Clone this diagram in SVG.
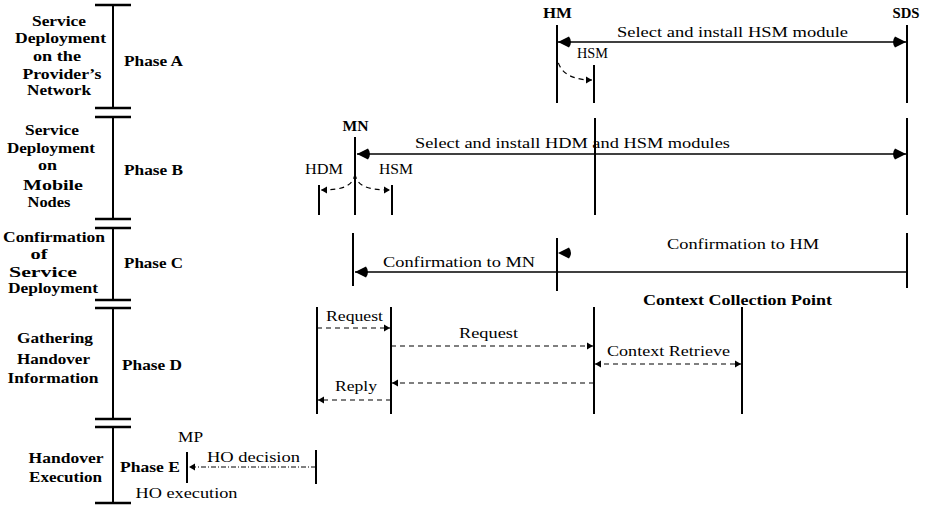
<svg xmlns="http://www.w3.org/2000/svg" width="933" height="506" viewBox="0 0 933 506" font-family="'Liberation Serif', 'Times New Roman', serif">
<style>
text{font-family:'Liberation Serif','Times New Roman',serif;fill:#000}
.b{font-weight:bold;font-size:14px}
.r{font-size:15.5px}
.ph{stroke:#000;stroke-width:2;fill:none}
.tk{stroke:#000;stroke-width:2.5}
.ll{stroke:#000;stroke-width:2;fill:none}
.sol{stroke:#000;stroke-width:1.4;fill:none}
.dsh{stroke:#000;stroke-width:1.2;fill:none;stroke-dasharray:5,4}
.dd{stroke:#000;stroke-width:1;fill:none;stroke-dasharray:5,2,1,2}
</style>
<defs>
<marker id="big" markerUnits="userSpaceOnUse" markerWidth="16" markerHeight="14" viewBox="-15 -7 16 14" refX="0" refY="0" orient="auto-start-reverse">
<path d="M0,0 L-11,-5.5 Q-15,0 -11,5.5 Z" fill="#000"/>
</marker>
<marker id="sm" markerUnits="userSpaceOnUse" markerWidth="8" markerHeight="8" viewBox="-7 -4 8 8" refX="0" refY="0" orient="auto-start-reverse">
<path d="M0,0 L-6,-3.5 L-6,3.5 Z" fill="#000"/>
</marker>
</defs>

<g id="phase-bar">
<line class="tk" x1="95" y1="5" x2="131" y2="5"/>
<line class="ph" x1="113" y1="5" x2="113" y2="108"/>
<line class="tk" x1="95" y1="108" x2="131" y2="108"/>
<line class="tk" x1="95" y1="117" x2="131" y2="117"/>
<line class="ph" x1="113" y1="117" x2="113" y2="219"/>
<line class="tk" x1="95" y1="219" x2="131" y2="219"/>
<line class="tk" x1="95" y1="228" x2="131" y2="228"/>
<line class="ph" x1="113" y1="228" x2="113" y2="300"/>
<line class="tk" x1="95" y1="300" x2="131" y2="300"/>
<line class="tk" x1="95" y1="308" x2="131" y2="308"/>
<line class="ph" x1="113" y1="308" x2="113" y2="419"/>
<line class="tk" x1="95" y1="419" x2="131" y2="419"/>
<line class="tk" x1="95" y1="427" x2="131" y2="427"/>
<line class="ph" x1="113" y1="427" x2="113" y2="503"/>
<line class="tk" x1="95" y1="503" x2="131" y2="503"/>
</g>

<g id="phase-a-label" class="b" text-anchor="middle">
<text x="59" y="26" textLength="54" lengthAdjust="spacingAndGlyphs">Service</text>
<text x="60.5" y="43" textLength="91" lengthAdjust="spacingAndGlyphs">Deployment</text>
<text x="57" y="61" textLength="48" lengthAdjust="spacingAndGlyphs">on the</text>
<text x="62" y="79" textLength="79" lengthAdjust="spacingAndGlyphs">Provider’s</text>
<text x="59" y="95" textLength="64" lengthAdjust="spacingAndGlyphs">Network</text>
<text x="153.5" y="66" textLength="59" lengthAdjust="spacingAndGlyphs">Phase A</text>
</g>
<g id="phase-b-label" class="b" text-anchor="middle">
<text x="52" y="135" textLength="54" lengthAdjust="spacingAndGlyphs">Service</text>
<text x="51" y="153" textLength="88" lengthAdjust="spacingAndGlyphs">Deployment</text>
<text x="47.5" y="170" textLength="19" lengthAdjust="spacingAndGlyphs">on</text>
<text x="53" y="190" textLength="60" lengthAdjust="spacingAndGlyphs">Mobile</text>
<text x="49" y="207" textLength="43" lengthAdjust="spacingAndGlyphs">Nodes</text>
<text x="153.5" y="175" textLength="59" lengthAdjust="spacingAndGlyphs">Phase B</text>
</g>
<g id="phase-c-label" class="b" text-anchor="middle">
<text x="54" y="242" textLength="102" lengthAdjust="spacingAndGlyphs">Confirmation</text>
<text x="39" y="259" textLength="17" lengthAdjust="spacingAndGlyphs">of</text>
<text x="43" y="276.5" textLength="68" lengthAdjust="spacingAndGlyphs">Service</text>
<text x="53" y="293" textLength="90" lengthAdjust="spacingAndGlyphs">Deployment</text>
<text x="153.5" y="268" textLength="59" lengthAdjust="spacingAndGlyphs">Phase C</text>
</g>
<g id="phase-d-label" class="b" text-anchor="middle">
<text x="55" y="343" textLength="76" lengthAdjust="spacingAndGlyphs">Gathering</text>
<text x="53.5" y="364" textLength="73" lengthAdjust="spacingAndGlyphs">Handover</text>
<text x="53" y="383" textLength="91" lengthAdjust="spacingAndGlyphs">Information</text>
<text x="152" y="370" textLength="60" lengthAdjust="spacingAndGlyphs">Phase D</text>
</g>
<g id="phase-e-label" class="b" text-anchor="middle">
<text x="66" y="463" textLength="75" lengthAdjust="spacingAndGlyphs">Handover</text>
<text x="65.5" y="482" textLength="73" lengthAdjust="spacingAndGlyphs">Execution</text>
<text x="150" y="472" textLength="60" lengthAdjust="spacingAndGlyphs">Phase E</text>
</g>

<g id="HM">
<text class="b" x="557.5" y="18" text-anchor="middle" textLength="29" lengthAdjust="spacingAndGlyphs">HM</text>
<line class="ll" x1="557" y1="25" x2="557" y2="103"/>
<line class="ll" x1="595" y1="118" x2="595" y2="215"/>
<line class="ll" x1="557" y1="238" x2="557" y2="291"/>
</g>
<g id="HSM-A">
<text class="r" x="592.5" y="58" text-anchor="middle" font-size="14" textLength="31" lengthAdjust="spacingAndGlyphs">HSM</text>
<line class="ll" x1="594" y1="65" x2="594" y2="103"/>
</g>
<g id="SDS">
<text class="b" x="906" y="18" text-anchor="middle" textLength="27" lengthAdjust="spacingAndGlyphs">SDS</text>
<line class="ll" x1="907" y1="25" x2="907" y2="103"/>
<line class="ll" x1="907" y1="118" x2="907" y2="215"/>
<line class="ll" x1="907" y1="233" x2="907" y2="288"/>
</g>
<g id="MN">
<text class="b" x="355.5" y="131" text-anchor="middle" textLength="26" lengthAdjust="spacingAndGlyphs">MN</text>
<line class="ll" x1="355" y1="137" x2="355" y2="215" stroke-width="3"/>
<line class="ll" x1="353" y1="233" x2="353" y2="286"/>
</g>
<g id="HDM">
<text class="r" x="324" y="174" text-anchor="middle" textLength="38" lengthAdjust="spacingAndGlyphs">HDM</text>
<line class="ll" x1="319" y1="185" x2="319" y2="215"/>
</g>
<g id="HSM-B">
<text class="r" x="396" y="174" text-anchor="middle" textLength="34" lengthAdjust="spacingAndGlyphs">HSM</text>
<line class="ll" x1="392" y1="185" x2="392" y2="215"/>
</g>
<g id="phase-d-lifelines">
<line class="ll" x1="317" y1="307" x2="317" y2="414"/>
<line class="ll" x1="391" y1="307" x2="391" y2="414"/>
<line class="ll" x1="594" y1="307" x2="594" y2="414"/>
</g>
<g id="CCP">
<text class="b" x="737.5" y="305" text-anchor="middle" font-size="15" textLength="189" lengthAdjust="spacingAndGlyphs">Context Collection Point</text>
<line class="ll" x1="742" y1="307" x2="742" y2="414"/>
</g>
<g id="MP">
<text class="r" x="190.5" y="442" text-anchor="middle" textLength="25" lengthAdjust="spacingAndGlyphs">MP</text>
<line class="ll" x1="187" y1="452" x2="187" y2="483"/>
<line class="ll" x1="316" y1="450" x2="316" y2="484"/>
<text class="r" x="186.5" y="498" text-anchor="middle" textLength="102" lengthAdjust="spacingAndGlyphs">HO execution</text>
</g>

<g id="connectors">
<line class="sol" x1="558" y1="42" x2="906" y2="42" marker-start="url(#big)" marker-end="url(#big)"/>
<path class="dsh" d="M557,54 C557,70 568,80 592,80" marker-end="url(#sm)"/>
<line class="sol" x1="357" y1="154" x2="906" y2="154" marker-start="url(#big)" marker-end="url(#big)"/>
<path class="dsh" d="M355,174 C353,186 343,190 321,190" marker-end="url(#sm)"/>
<path class="dsh" d="M355,174 C357,186 367,190 390,190" marker-end="url(#sm)"/>
<line class="sol" x1="355" y1="272" x2="907" y2="272" marker-start="url(#big)"/>
<path d="M558,253 L569,247.5 Q573,253 569,258.5 Z" fill="#000"/>
<line class="dsh" x1="317" y1="328" x2="390" y2="328" marker-end="url(#sm)"/>
<line class="dsh" x1="391" y1="346" x2="593" y2="346" marker-end="url(#sm)"/>
<line class="dsh" x1="595" y1="364" x2="741" y2="364" marker-start="url(#sm)" marker-end="url(#sm)"/>
<line class="dsh" x1="594" y1="383" x2="392" y2="383" marker-end="url(#sm)"/>
<line class="dsh" x1="391" y1="400" x2="318" y2="400" marker-end="url(#sm)"/>
<line class="dd" x1="316" y1="467" x2="189" y2="467" marker-end="url(#sm)"/>
</g>

<g id="connector-labels" class="r">
<text x="617" y="37" textLength="231" lengthAdjust="spacingAndGlyphs">Select and install HSM module</text>
<text x="415" y="148" textLength="315" lengthAdjust="spacingAndGlyphs">Select and install HDM and HSM modules</text>
<text x="383" y="267" textLength="152" lengthAdjust="spacingAndGlyphs">Confirmation to MN</text>
<text x="667" y="249" textLength="152" lengthAdjust="spacingAndGlyphs">Confirmation to HM</text>
<text x="326" y="321" textLength="57" lengthAdjust="spacingAndGlyphs">Request</text>
<text x="459" y="338" textLength="59" lengthAdjust="spacingAndGlyphs">Request</text>
<text x="607" y="356" textLength="123" lengthAdjust="spacingAndGlyphs">Context Retrieve</text>
<text x="335" y="391" textLength="42" lengthAdjust="spacingAndGlyphs">Reply</text>
<text x="207" y="462" textLength="93" lengthAdjust="spacingAndGlyphs">HO decision</text>
</g>
</svg>
